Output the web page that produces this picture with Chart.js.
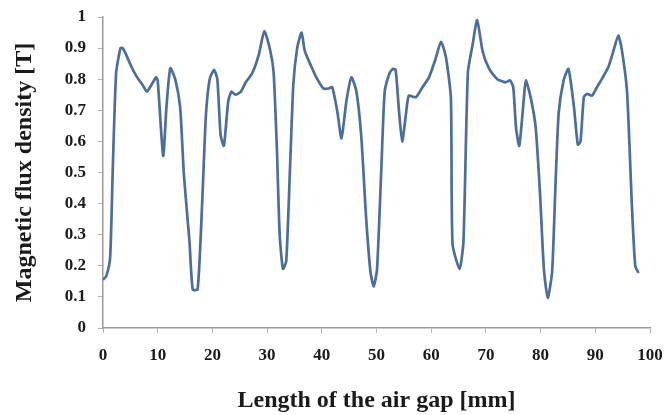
<!DOCTYPE html>
<html>
<head>
<meta charset="utf-8">
<script src="https://cdn.jsdelivr.net/npm/chart.js@4"></script>
<style>
  html, body { margin: 0; padding: 0; background: #ffffff; }
  #wrap { width: 669px; height: 415px; position: relative; }
</style>
</head>
<body>
<div id="wrap"><canvas id="c" width="669" height="415"></canvas></div>
<script>
// Position along the air gap [mm]
const positions = [0, 0.6, 1.3, 1.8, 2.4, 3.2, 3.6, 4.2, 5.2, 6.1, 7.3, 8.0, 8.8, 9.7, 10.0,
  11.0, 11.6, 12.3, 13.2, 14.1, 14.8, 15.8, 16.4, 17.3, 18.1, 18.8, 19.5, 20.3, 20.9, 21.5,
  22.1, 22.9, 23.5, 24.2, 25.2, 26.1, 27.3, 28.5, 29.5, 30.6, 31.2, 31.8, 32.3, 32.9, 33.5,
  34.2, 34.8, 35.5, 36.3, 36.9, 38.1, 39.0, 40.3, 41.2, 41.9, 42.8, 43.6, 44.5, 45.4, 46.3,
  47.2, 48.1, 48.9, 49.5, 50.1, 50.9, 51.5, 52.4, 53.0, 53.5, 54.1, 54.7, 55.4, 55.9, 57.2,
  58.4, 59.6, 60.7, 61.8, 62.7, 63.6, 63.9, 65.2, 65.9, 66.7, 67.6, 68.4, 69.4, 70.6, 72.1,
  73.6, 74.4, 75.0, 75.5, 76.1, 76.9, 77.3, 78.2, 79.1, 79.9, 80.6, 81.3, 82.1, 82.7, 83.3,
  84.2, 85.1, 86.1, 86.8, 87.3, 87.9, 88.5, 89.4, 90.3, 91.5, 92.4, 93.3, 94.2, 94.8, 95.8,
  96.7, 97.3, 97.9];
// Magnetic flux density [T]
const fluxDensity = [0.155, 0.167, 0.226, 0.52, 0.82, 0.90, 0.90, 0.88, 0.84, 0.81, 0.78, 0.76, 0.78, 0.806, 0.796,
  0.554, 0.71, 0.835, 0.80, 0.71, 0.49, 0.28, 0.124, 0.124, 0.39, 0.68, 0.80, 0.83, 0.80, 0.62,
  0.586, 0.73, 0.76, 0.75, 0.76, 0.79, 0.82, 0.88, 0.955, 0.89, 0.82, 0.57, 0.30, 0.19, 0.215,
  0.52, 0.785, 0.90, 0.95, 0.89, 0.84, 0.806, 0.77, 0.77, 0.774, 0.70, 0.61, 0.73, 0.806, 0.763,
  0.62, 0.355, 0.18, 0.134, 0.19, 0.52, 0.76, 0.82, 0.833, 0.83, 0.70, 0.60, 0.69, 0.747, 0.742,
  0.774, 0.806, 0.86, 0.92, 0.87, 0.74, 0.27, 0.19, 0.28, 0.82, 0.914, 0.99, 0.89, 0.833, 0.80,
  0.79, 0.796, 0.774, 0.645, 0.586, 0.73, 0.796, 0.74, 0.645, 0.43, 0.19, 0.097, 0.18, 0.45, 0.69,
  0.796, 0.833, 0.71, 0.59, 0.60, 0.742, 0.753, 0.747, 0.774, 0.81, 0.84, 0.89, 0.94, 0.90, 0.76,
  0.39, 0.20, 0.177];
const xTickValues = [0, 10, 20, 30, 40, 50, 60, 70, 80, 90, 100];
const yTickLabels = ['0', '0.1', '0.2', '0.3', '0.4', '0.5', '0.6', '0.7', '0.8', '0.9', '1'];
const xTitle = 'Length of the air gap [mm]';
const yTitle = 'Magnetic flux density [T]';

const serif = "'Liberation Serif', 'Times New Roman', serif";
const points = positions.map((x, i) => ({ x: x, y: fluxDensity[i] }));

new Chart(document.getElementById('c'), {
  type: 'line',
  data: {
    datasets: [{
      data: points,
      borderColor: '#4b6e9c',
      borderWidth: 2.7,
      pointRadius: 0,
      tension: 0.2,
      fill: false
    }]
  },
  options: {
    responsive: false,
    animation: false,
    devicePixelRatio: 1,
    layout: { padding: { top: 17, right: 19, left: 0, bottom: 0 } },
    plugins: { legend: { display: false }, tooltip: { enabled: false } },
    scales: {
      x: {
        type: 'linear', min: 0, max: 100,
        afterBuildTicks: (s) => { s.ticks = xTickValues.map(v => ({ value: v })); },
        afterFit: (s) => { s.height = 87; s.paddingLeft = 0; s.paddingRight = 0; },
        ticks: { color: '#1a1a1a', font: { family: serif, size: 17, weight: 'bold' }, padding: 12, maxRotation: 0 },
        grid: { drawOnChartArea: false, drawTicks: true, tickLength: 5, color: '#b0b0b0' },
        border: { color: '#9a9a9a', width: 1.5 },
        title: { display: true, text: xTitle, color: '#1a1a1a', font: { family: serif, size: 24, weight: 'bold' }, padding: { top: 7, bottom: 0 } }
      },
      y: {
        type: 'linear', min: 0, max: 1,
        afterBuildTicks: (s) => { s.ticks = yTickLabels.map((t, i) => ({ value: i / 10 })); },
        afterFit: (s) => { s.width = 103; s.paddingTop = 0; s.paddingBottom = 0; },
        ticks: {
          color: '#1a1a1a', font: { family: serif, size: 17, weight: 'bold' }, padding: 12,
          callback: (v, i) => yTickLabels[i]
        },
        grid: { drawOnChartArea: false, drawTicks: true, tickLength: 5, color: '#b0b0b0' },
        border: { color: '#9a9a9a', width: 1.5 },
        title: { display: true, text: yTitle, color: '#1a1a1a', font: { family: serif, size: 24, weight: 'bold' }, padding: { top: 10, bottom: 0 } }
      }
    }
  }
});
</script>
</body>
</html>
